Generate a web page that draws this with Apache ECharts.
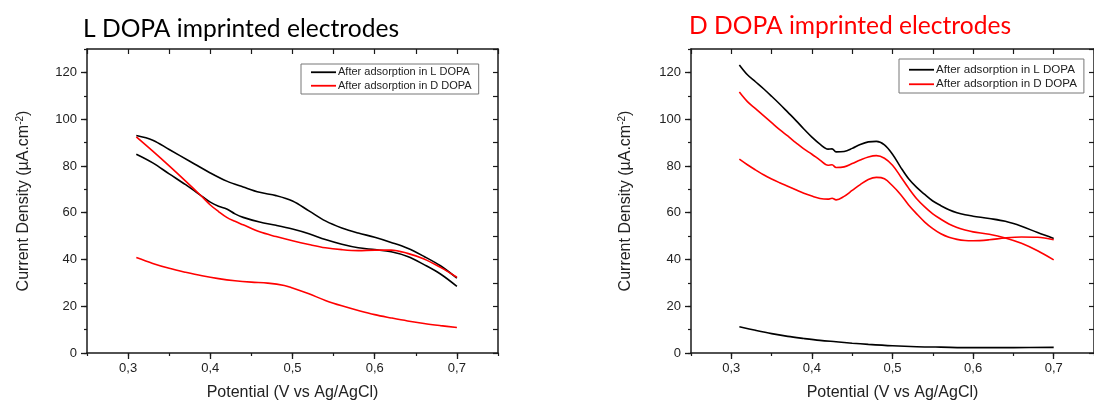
<!DOCTYPE html>
<html><head><meta charset="utf-8">
<script src="https://cdn.jsdelivr.net/npm/echarts@6/dist/echarts.min.js"></script>
<style>html,body{margin:0;padding:0;background:#fff}#c{width:1094px;height:406px}</style>
</head><body><div id="c"></div>
<script>
// ---------- tick labels ----------
const xMajorTicks = [0.3, 0.4, 0.5, 0.6, 0.7];
const yMajorTicks = [0, 20, 40, 60, 80, 100, 120];
const seriesNames = ['After adsorption in L DOPA', 'After adsorption in D DOPA'];
const titles = ['L DOPA imprinted electrodes', 'D DOPA imprinted electrodes'];
const xName = 'Potential (V vs Ag/AgCl)';

// ---------- Left panel: L DOPA imprinted ----------
const L_blackFwdX = [0.31,0.33,0.35,0.375,0.40,0.42,0.44,0.46,0.48,0.50,0.52,0.54,0.56,0.58,0.60,0.62,0.64,0.66,0.68,0.70];
const L_blackFwdY = [93,91,87,82,77,73.5,71,68.7,67.3,65,60.8,56.5,53.5,51.3,49.5,47.3,44.8,41.3,37.3,32];
const L_blackRevX = [0.31,0.33,0.35,0.37,0.39,0.40,0.41,0.42,0.43,0.44,0.46,0.48,0.50,0.52,0.54,0.56,0.58,0.60,0.62,0.64,0.66,0.68,0.70];
const L_blackRevY = [85,81.3,76.6,72,67,64.5,62.8,61.6,59.5,58,56,54.6,53,51,48.5,46.5,45,44.2,43.3,41.3,37.8,33.8,28.5];
const L_redFwdX = [0.31,0.33,0.35,0.37,0.39,0.40,0.41,0.42,0.43,0.44,0.46,0.48,0.50,0.52,0.54,0.56,0.58,0.60,0.62,0.64,0.66,0.68,0.70];
const L_redFwdY = [92.4,86.3,80,73.5,66.8,63.3,60.5,58,56.3,54.8,51.8,49.8,48,46.4,45,44.2,43.8,44,44,42.6,40.2,36.6,32.4];
const L_redRevX = [0.31,0.33,0.35,0.37,0.39,0.41,0.43,0.45,0.47,0.49,0.50,0.52,0.54,0.56,0.58,0.60,0.62,0.64,0.66,0.68,0.70];
const L_redRevY = [40.8,38.3,36.2,34.5,33,31.8,30.9,30.3,29.9,28.9,27.8,25.3,22.5,20.2,18.2,16.4,15,13.7,12.6,11.7,10.9];

// ---------- Right panel: D DOPA imprinted ----------
const D_blackFwdX = [0.31,0.32,0.33,0.34,0.35,0.36,0.37,0.38,0.39,0.40,0.41,0.42,0.425,0.43,0.44,0.45,0.46,0.47,0.48,0.49,0.50,0.51,0.52,0.53,0.54,0.55,0.56,0.57,0.58,0.59,0.60,0.62,0.64,0.66,0.68,0.70];
const D_blackFwdY = [123.2,119,116,113,109.8,106.5,103,99.5,95.8,92.3,89.3,87.2,87.3,86,86.2,87.5,89.2,90.3,90.5,89,85,79.5,74.5,70.8,67.8,65,63,61.3,60,59.1,58.5,57.5,56.3,54.2,51.5,49];
const D_blackRevX = [0.31,0.33,0.35,0.37,0.39,0.41,0.43,0.45,0.47,0.50,0.53,0.56,0.60,0.65,0.70];
const D_blackRevY = [11.2,9.7,8.3,7.1,6.2,5.4,4.8,4.2,3.7,3.1,2.7,2.5,2.3,2.3,2.4];
const D_redFwdX = [0.31,0.32,0.33,0.34,0.35,0.36,0.37,0.38,0.39,0.40,0.41,0.42,0.425,0.43,0.44,0.45,0.46,0.47,0.48,0.49,0.50,0.51,0.52,0.53,0.54,0.55,0.56,0.57,0.58,0.59,0.60,0.62,0.64,0.66,0.68,0.70];
const D_redFwdY = [111.6,107.5,104.5,101.5,98.5,95.5,92.8,90,87.3,85,82.5,80.3,80.5,79.3,79.6,81,82.5,83.8,84.4,83.3,80.3,75.5,70.5,66,62.5,59.5,57.2,55.2,53.7,52.6,51.8,50.8,49.2,46.9,43.7,39.8];
const D_redRevX = [0.31,0.32,0.33,0.34,0.35,0.36,0.37,0.38,0.39,0.40,0.41,0.42,0.425,0.43,0.44,0.45,0.46,0.47,0.48,0.49,0.50,0.51,0.52,0.53,0.54,0.55,0.56,0.57,0.58,0.59,0.60,0.62,0.64,0.66,0.68,0.70];
const D_redRevY = [82.9,80.5,78.3,76.2,74.4,72.8,71.3,69.8,68.3,67.1,66.1,65.8,66.2,65.5,67,69.5,72,74.2,75.1,74.5,71.5,67.8,63.3,59.5,56,53.2,51,49.5,48.6,48.1,48,48.4,49.2,49.6,49.5,48.4];

// ---------- build ----------
const AX = '#1a1a1a';
const FONT = '"Liberation Sans", Arial, sans-serif';
const BLACK = '#000000', RED = '#ff0000';
const pairs = (xs, ys) => xs.map((x, i) => [x, ys[i]]);

const grids = [
  { left: 87, top: 49, width: 411, height: 307 },
  { left: 691, top: 49, width: 412, height: 307 }
];

const xAxes = [], yAxes = [];
grids.forEach((g, gi) => {
  xAxes.push({
    gridIndex: gi, type: 'value', min: 0.25, max: 0.75, position: 'bottom',
    axisLine: { show: true, onZero: false, lineStyle: { color: AX, width: 1.5 } },
    axisTick: { show: true, inside: false, length: 6, customValues: xMajorTicks, lineStyle: { color: AX, width: 1.3 } },
    axisLabel: { customValues: xMajorTicks, formatter: v => v.toFixed(1).replace('.', ','), fontSize: 13, color: '#222', margin: 9, fontFamily: FONT },
    splitLine: { show: false },
    name: xName, nameLocation: 'middle', nameGap: 32,
    nameTextStyle: { fontSize: 16, color: '#222', fontFamily: FONT }
  });
  xAxes.push({
    gridIndex: gi, type: 'value', min: 0.25, max: 0.75, interval: 0.05, position: 'bottom',
    axisLine: { show: false }, axisTick: { show: true, length: 3, lineStyle: { color: AX, width: 1.2 } },
    axisLabel: { show: false }, splitLine: { show: false }
  });
  xAxes.push({
    gridIndex: gi, type: 'value', min: 0.25, max: 0.75, interval: 0.05, position: 'top',
    axisLine: { show: true, onZero: false, lineStyle: { color: AX, width: 1.5 } },
    axisTick: { show: true, inside: true, length: 5, lineStyle: { color: AX, width: 1.2 } },
    axisLabel: { show: false }, splitLine: { show: false }
  });
  yAxes.push({
    gridIndex: gi, type: 'value', min: 0, max: 130, position: 'left',
    axisLine: { show: true, onZero: false, lineStyle: { color: AX, width: 1.5 } },
    axisTick: { show: true, inside: false, length: 6, customValues: yMajorTicks, lineStyle: { color: AX, width: 1.3 } },
    axisLabel: { customValues: yMajorTicks, fontSize: 13, color: '#222', margin: 10, fontFamily: FONT },
    splitLine: { show: false },
    name: 'Current Density (µA.cm{sup|-2})', nameLocation: 'middle', nameGap: gi === 0 ? 54 : 56, nameRotate: 90,
    nameTextStyle: { fontSize: 16, color: '#222', fontFamily: FONT, lineHeight: 18,
      rich: { sup: { fontSize: 10, fontFamily: FONT, color: '#222', lineHeight: 10, verticalAlign: 'top' } } }
  });
  yAxes.push({
    gridIndex: gi, type: 'value', min: 0, max: 130, interval: 10, position: 'left',
    axisLine: { show: false }, axisTick: { show: true, length: 3, lineStyle: { color: AX, width: 1.2 } },
    axisLabel: { show: false }, splitLine: { show: false }
  });
  yAxes.push({
    gridIndex: gi, type: 'value', min: 0, max: 130, interval: 10, position: 'right',
    axisLine: { show: true, onZero: false, lineStyle: { color: AX, width: 1.5 } },
    axisTick: { show: true, inside: true, length: 5, lineStyle: { color: AX, width: 1.2 } },
    axisLabel: { show: false }, splitLine: { show: false }
  });
});

function line(gi, name, color, xs, ys) {
  return {
    type: 'line', name, xAxisIndex: gi * 3, yAxisIndex: gi * 3,
    data: pairs(xs, ys), symbol: 'none', smooth: 0.35, silent: true,
    lineStyle: { color, width: 1.6 }, itemStyle: { color }, z: color === RED ? 3 : 2
  };
}

const series = [
  line(0, seriesNames[0], BLACK, L_blackFwdX, L_blackFwdY),
  line(0, seriesNames[0], BLACK, L_blackRevX, L_blackRevY),
  line(0, seriesNames[1], RED, L_redFwdX, L_redFwdY),
  line(0, seriesNames[1], RED, L_redRevX, L_redRevY),
  line(1, seriesNames[0], BLACK, D_blackFwdX, D_blackFwdY),
  line(1, seriesNames[0], BLACK, D_blackRevX, D_blackRevY),
  line(1, seriesNames[1], RED, D_redFwdX, D_redFwdY),
  line(1, seriesNames[1], RED, D_redRevX, D_redRevY)
];

function legendAt(left, top, fs, lh, pad) {
  return {
    data: seriesNames, orient: 'vertical', left, top, itemWidth: 25, itemHeight: 1.8, itemGap: 1,
    icon: 'rect',
    padding: pad, borderColor: '#777', borderWidth: 1, backgroundColor: '#fff', selectedMode: false,
    textStyle: { fontSize: fs, fontFamily: FONT, color: '#222', lineHeight: lh, padding: [0, 0, 0, -3] }
  };
}

const chart = echarts.init(document.getElementById('c'));
chart.setOption({
  animation: false,
  backgroundColor: '#fff',
  title: [
    { text: titles[0], left: 78, top: 12, textStyle: { fontFamily: 'Lato', fontSize: 24.6, fontWeight: 'normal', color: '#000' } },
    { text: titles[1], left: 684, top: 9, textStyle: { fontFamily: 'Lato', fontSize: 24.6, fontWeight: 'normal', color: '#ff0000' } }
  ],
  legend: [legendAt(301, 64, 11, 12.5, [2, 7, 2, 10]), legendAt(899, 59, 11.6, 13.5, [4, 7, 2, 10])],
  grid: grids,
  xAxis: xAxes,
  yAxis: yAxes,
  series
});
</script>
</body></html>
